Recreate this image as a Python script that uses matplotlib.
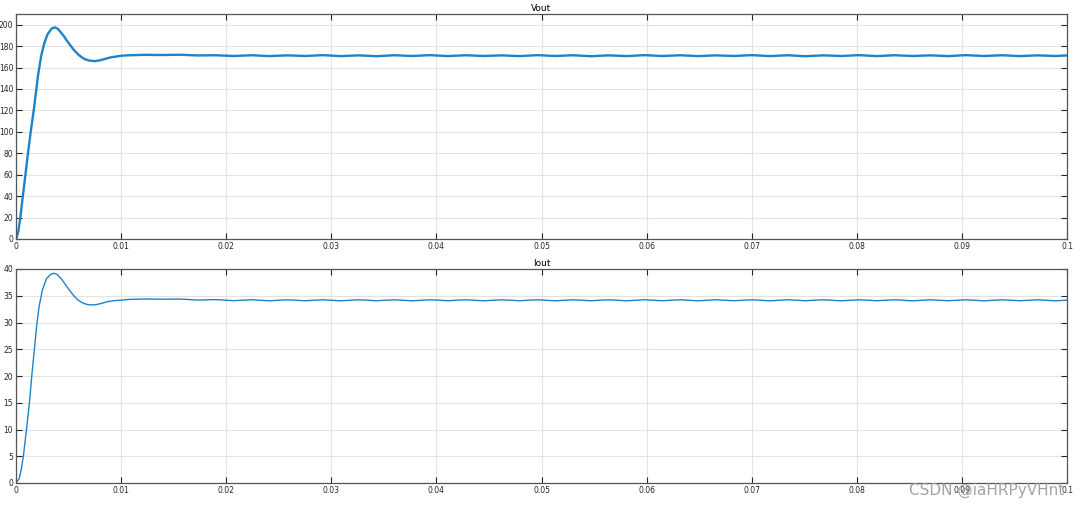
# Vout / Iout scope capture, redrawn
import matplotlib
matplotlib.use('Agg')
import matplotlib.pyplot as plt
import numpy as np

# --- startup transient ---
t_start = [0, 0.0002, 0.0004, 0.0006, 0.0009, 0.0011, 0.0014, 0.0017, 0.0019,
           0.0021, 0.0024, 0.0027, 0.0030, 0.0034, 0.0037, 0.0040, 0.0045,
           0.0050, 0.0055, 0.0060, 0.0065, 0.0070, 0.0075, 0.0080, 0.0090, 0.0100]
vout_start = [0, 6, 19, 36, 60, 77, 100, 121, 137, 153, 171, 183, 191, 196.5,
              197.5, 196, 190, 183, 176.5, 171.5, 168, 166.5, 166, 166.8, 169.5, 171]

t_istart = [0, 0.0003, 0.0005, 0.0007, 0.0010, 0.0013, 0.0015, 0.0018, 0.0020,
            0.0022, 0.0025, 0.0029, 0.0033, 0.0036, 0.0039, 0.0043, 0.0047,
            0.0051, 0.0055, 0.0059, 0.0063, 0.0067, 0.0071, 0.0075, 0.0080,
            0.0087, 0.0094, 0.0102]
iout_start = [0, 0.8, 2.5, 5, 10, 15.5, 20, 26, 30, 33, 36, 38.2, 39.0, 39.2,
              39.0, 38.2, 37.1, 36.0, 35.0, 34.2, 33.7, 33.4, 33.3, 33.3, 33.5,
              33.9, 34.1, 34.2]

# --- steady state ripple, sampled every half ripple period (~300 Hz) ---
ss_t0, ss_dt = 0.0105, 0.0017
vout_ss = [171.4, 171.9, 171.7, 172.0, 171.3, 171.5, 170.8, 171.5, 170.7, 171.4,
           170.8, 171.6, 170.7, 171.4, 170.6, 171.5, 170.8, 171.6, 170.7, 171.5,
           170.8, 171.4, 170.7, 171.6, 170.8, 171.5, 170.6, 171.4, 170.7, 171.6,
           170.8, 171.5, 170.7, 171.4, 170.8, 171.6, 170.7, 171.5, 170.6, 171.4,
           170.8, 171.6, 170.7, 171.5, 170.8, 171.4, 170.7, 171.6, 170.8, 171.5,
           170.7, 171.4, 170.8, 171.6, 170.7, 171.5, 170.6]
iout_ss = [34.3, 34.4, 34.35, 34.38, 34.2, 34.28, 34.08, 34.25, 34.05, 34.25,
           34.07, 34.25, 34.05, 34.25, 34.07, 34.25, 34.05, 34.25, 34.07, 34.25,
           34.05, 34.25, 34.07, 34.25, 34.05, 34.25, 34.07, 34.25, 34.05, 34.25,
           34.07, 34.25, 34.05, 34.25, 34.07, 34.25, 34.05, 34.25, 34.07, 34.25,
           34.05, 34.25, 34.07, 34.25, 34.05, 34.25, 34.07, 34.25, 34.05, 34.25,
           34.07, 34.25, 34.05, 34.25, 34.07, 34.25, 34.0]

x_ticks = [0, 0.01, 0.02, 0.03, 0.04, 0.05, 0.06, 0.07, 0.08, 0.09, 0.1]
x_ticklabels = ['0', '0.01', '0.02', '0.03', '0.04', '0.05', '0.06', '0.07', '0.08', '0.09', '0.1']
vout_ticks = [0, 20, 40, 60, 80, 100, 120, 140, 160, 180, 200]
iout_ticks = [0, 5, 10, 15, 20, 25, 30, 35, 40]

t_ss = ss_t0 + ss_dt * np.arange(len(vout_ss))
t_v = np.concatenate([t_start, t_ss])
v = np.concatenate([vout_start, vout_ss])
t_i = np.concatenate([t_istart, t_ss])
i = np.concatenate([iout_start, iout_ss])

line_col = '#1f82c8'
W, H = 1080, 508
fig = plt.figure(figsize=(W / 100, H / 100), dpi=100)
ax1 = fig.add_axes([16 / W, 1 - 239 / H, (1067 - 16) / W, (239 - 14) / H])
ax2 = fig.add_axes([16 / W, 1 - 483 / H, (1067 - 16) / W, (483 - 269) / H])

for ax, t, y, yt, ylim, title, lw in [
        (ax1, t_v, v, vout_ticks, 210, 'Vout', 1.7),
        (ax2, t_i, i, iout_ticks, 40, 'Iout', 1.0)]:
    ax.plot(t, y, color=line_col, linewidth=lw)
    ax.set_xlim(0, 0.1)
    ax.set_ylim(0, ylim)
    ax.set_xticks(x_ticks)
    ax.set_xticklabels(x_ticklabels)
    ax.set_yticks(yt)
    ax.grid(True, color='#e3e3e3', linewidth=0.8)
    ax.set_axisbelow(True)
    ax.tick_params(direction='in', length=4, width=0.8, labelsize=5.5,
                   top=True, right=True, colors='#262626', pad=2)
    for s in ax.spines.values():
        s.set_color('#555555')
        s.set_linewidth(0.9)
    ax.set_title(title, fontsize=6.5, pad=2)

# watermark as in the screenshot (it sits over the last tick labels there too)
fig.text(0.985, 0.035, 'CSDN @iaHRPyVHnt', ha='right', va='center',
         fontsize=11, color='#9a9a9a', alpha=0.9)

fig.savefig('out.png', dpi=100)
plt.close(fig)
